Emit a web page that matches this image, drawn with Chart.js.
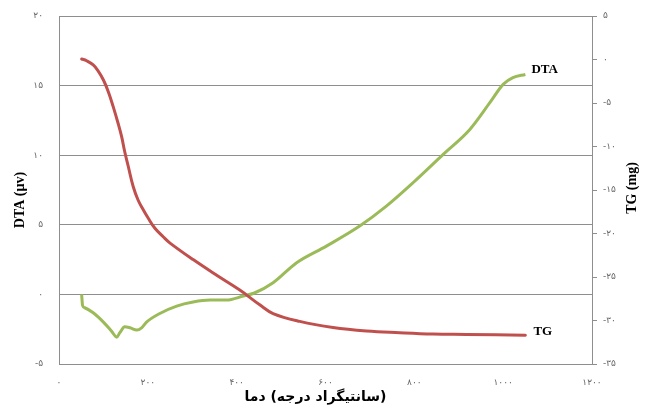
<!DOCTYPE html>
<html>
<head>
<meta charset="utf-8">
<script src="https://cdn.jsdelivr.net/npm/chart.js@4/dist/chart.umd.min.js"></script>
<style>
  html, body { margin: 0; padding: 0; background: #fff; }
  canvas { display: block; }
</style>
</head>
<body>
<canvas id="c" width="645" height="408"></canvas>
<script>
// Temperature (°C) and DTA signal (µV)
const dtaTemp   = [51, 53, 58, 77, 100, 118, 130, 137, 148, 160, 175, 186, 197, 227, 265, 302, 340, 377, 415, 440, 482, 535, 602, 677, 737, 797, 865, 925, 970, 1000, 1022, 1050];
const dtaValues = [0, -0.79, -0.96, -1.32, -1.99, -2.63, -3.07, -2.75, -2.32, -2.40, -2.56, -2.40, -1.99, -1.37, -0.84, -0.55, -0.41, -0.41, -0.12, 0.1, 0.84, 2.28, 3.47, 4.91, 6.34, 8.02, 10.06, 11.85, 13.77, 15.09, 15.57, 15.8];

// Temperature (°C) and TG mass change (mg)
const tgTemp   = [51, 62, 77, 88, 100, 111, 122, 133, 141, 148, 156, 167, 178, 190, 201, 216, 235, 250, 302, 355, 407, 452, 482, 542, 617, 692, 767, 842, 917, 1050];
const tgValues = [0.06, -0.14, -0.63, -1.30, -2.36, -3.70, -5.42, -7.33, -8.87, -10.6, -12.3, -14.6, -16.15, -17.3, -18.25, -19.4, -20.4, -21.1, -23.0, -24.8, -26.5, -28.2, -29.2, -30.1, -30.8, -31.2, -31.4, -31.55, -31.6, -31.7];

// Tick labels (Persian digits), ascending order
const xTickLabels   = ['۰', '۲۰۰', '۴۰۰', '۶۰۰', '۸۰۰', '۱۰۰۰', '۱۲۰۰'];
const dtaTickLabels = ['-۵', '۰', '۵', '۱۰', '۱۵', '۲۰'];
const tgTickLabels  = ['-۳۵', '-۳۰', '-۲۵', '-۲۰', '-۱۵', '-۱۰', '-۵', '۰', '۵'];

// x title pieces, laid out left to right
const xTitleParts = ['دما', ' (', 'درجه', ' ', 'سانتیگراد', ')'];
const dtaTitle = 'DTA (µv)';
const tgTitle  = 'TG (mg)';

const GREEN = '#9BBB59';
const RED = '#C0504D';
const GRID = '#8e8e8e';
const TICK_FONT = { family: 'DejaVu Sans', size: 9 };
const TICK_COLOR = '#666';

const toPoints = (xs, ys) => xs.map((x, i) => ({ x: x, y: ys[i] }));

// keep the vertical axes from pushing the plot area inward
const fitVertical = width => s => {
  s.width = width;
  s.paddingTop = 0;
  s.paddingBottom = 0;
};

// Axis titles and series names drawn on top of the chart
const titlesPlugin = {
  id: 'titles',
  afterDraw(chart) {
    const ctx = chart.ctx;
    const area = chart.chartArea;
    ctx.save();
    ctx.fillStyle = '#000';
    ctx.textBaseline = 'middle';

    // x title, piece by piece
    ctx.font = 'bold 14px "DejaVu Sans"';
    ctx.textAlign = 'left';
    const widths = xTitleParts.map(p => ctx.measureText(p).width);
    const total = widths.reduce((a, b) => a + b, 0);
    let px = (area.left + area.right) / 2 - 10 - total / 2;
    xTitleParts.forEach((p, i) => {
      ctx.fillText(p, px, 397);
      px += widths[i];
    });

    ctx.textAlign = 'center';
    // left title
    ctx.font = 'bold 14px "Liberation Serif"';
    ctx.save();
    ctx.translate(20, (area.top + area.bottom) / 2 + 10);
    ctx.rotate(-Math.PI / 2);
    ctx.fillText(dtaTitle, 0, 0);
    ctx.restore();

    // right title
    ctx.save();
    ctx.translate(632, (area.top + area.bottom) / 2 - 2);
    ctx.rotate(-Math.PI / 2);
    ctx.fillText(tgTitle, 0, 0);
    ctx.restore();

    // series names at the end of each line
    ctx.font = 'bold 13px "Liberation Serif"';
    ctx.textAlign = 'left';
    const xs = chart.scales.x;
    const yl = chart.scales.yDTA;
    const yr = chart.scales.yTG;
    const dx = xs.getPixelForValue(dtaTemp[dtaTemp.length - 1]);
    const dy = yl.getPixelForValue(dtaValues[dtaValues.length - 1]);
    ctx.fillText('DTA', dx + 6, dy - 5);
    const tx = xs.getPixelForValue(tgTemp[tgTemp.length - 1]);
    const ty = yr.getPixelForValue(tgValues[tgValues.length - 1]);
    ctx.fillText('TG', tx + 8, ty - 4);
    ctx.restore();
  }
};

new Chart(document.getElementById('c'), {
  type: 'line',
  data: {
    datasets: [
      {
        label: 'TG',
        data: toPoints(tgTemp, tgValues),
        yAxisID: 'yTG',
        borderColor: RED,
        borderWidth: 3,
        borderCapStyle: 'round',
        pointRadius: 0,
        tension: 0.4,
        fill: false
      },
      {
        label: 'DTA',
        data: toPoints(dtaTemp, dtaValues),
        yAxisID: 'yDTA',
        borderColor: GREEN,
        borderWidth: 3,
        pointRadius: 0,
        cubicInterpolationMode: 'monotone',
        fill: false
      }
    ]
  },
  options: {
    responsive: false,
    animation: false,
    layout: { padding: { top: 16, left: 0, right: 0, bottom: 0 } },
    plugins: { legend: { display: false }, tooltip: { enabled: false } },
    scales: {
      x: {
        type: 'linear',
        min: 0, max: 1200,
        ticks: {
          stepSize: 200,
          maxRotation: 0,
          autoSkip: false,
          padding: 13,
          font: TICK_FONT,
          color: TICK_COLOR,
          callback: (v, i) => xTickLabels[i]
        },
        grid: { display: false, drawTicks: false },
        border: { display: false },
        afterFit: s => { s.height = 44; }
      },
      yDTA: {
        position: 'left',
        min: -5, max: 20,
        ticks: {
          stepSize: 5,
          padding: 16,
          font: TICK_FONT,
          color: TICK_COLOR,
          callback: (v, i) => dtaTickLabels[i]
        },
        grid: { color: GRID, lineWidth: 1, drawTicks: false },
        border: { display: true, color: GRID },
        afterFit: fitVertical(59)
      },
      yTG: {
        position: 'right',
        min: -35, max: 5,
        ticks: {
          stepSize: 5,
          padding: 6,
          font: TICK_FONT,
          color: TICK_COLOR,
          callback: (v, i) => tgTickLabels[i]
        },
        grid: { drawOnChartArea: false, drawTicks: true, tickLength: 5, color: GRID },
        border: { display: true, color: GRID },
        afterFit: fitVertical(53)
      }
    }
  },
  plugins: [titlesPlugin]
});
</script>
</body>
</html>
